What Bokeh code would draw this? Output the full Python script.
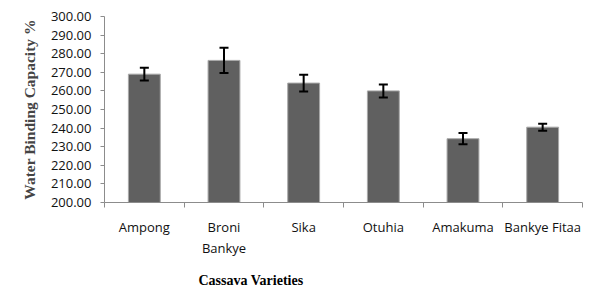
from bokeh.plotting import figure
from bokeh.models import Range1d, FixedTicker, ColumnDataSource, Whisker, TeeHead, Title, NumeralTickFormatter
from bokeh.embed import file_html
from bokeh.resources import INLINE

categories = ["Ampong", "Broni Bankye", "Sika", "Otuhia", "Amakuma", "Bankye Fitaa"]
tick_labels = ["Ampong", "Broni\nBankye", "Sika", "Otuhia", "Amakuma", "Bankye Fitaa"]
values = [269.0, 276.4, 264.2, 260.0, 234.3, 240.5]
errors = [3.4, 6.8, 4.5, 3.5, 3.0, 1.9]

xs = [i + 0.5 for i in range(len(categories))]
src = ColumnDataSource(dict(
    x=xs, top=values,
    lower=[v - e for v, e in zip(values, errors)],
    upper=[v + e for v, e in zip(values, errors)],
))

p = figure(width=605, height=306, output_backend="svg", toolbar_location=None,
           x_range=Range1d(0, len(categories)), y_range=Range1d(200, 300),
           min_border_left=104, min_border_right=23, min_border_top=16, min_border_bottom=104)
p.outline_line_color = None
p.grid.grid_line_color = None
p.background_fill_color = "white"

p.vbar(x="x", top="top", bottom=200, width=0.4, source=src,
       fill_color="#606060", line_color="#a8a8a8", line_width=1)

w = Whisker(base="x", lower="lower", upper="upper", source=src, level="overlay",
            line_color="black", line_width=2,
            lower_head=TeeHead(size=9, line_color="black", line_width=2),
            upper_head=TeeHead(size=9, line_color="black", line_width=2))
p.add_layout(w)

font = "Open Sans"
ax = p.xaxis[0]
ax.ticker = FixedTicker(ticks=xs, minor_ticks=list(range(len(categories) + 1)))
ax.major_label_overrides = {x: t for x, t in zip(xs, tick_labels)}
ax.major_tick_line_color = None
ax.minor_tick_line_color = "#8c8c8c"
ax.minor_tick_in = 0
ax.minor_tick_out = 5
ax.axis_line_color = "#8c8c8c"
ax.major_label_text_font = font
ax.major_label_text_font_size = "13px"
ax.major_label_text_color = "#111111"
ax.major_label_standoff = 9
ax.major_label_text_line_height = 1.2

ay = p.yaxis[0]
ay.ticker = FixedTicker(ticks=list(range(200, 301, 10)))
ay.formatter = NumeralTickFormatter(format="0.00")
ay.minor_tick_line_color = None
ay.major_tick_in = 0
ay.major_tick_out = 4
ay.major_tick_line_color = "#8c8c8c"
ay.axis_line_color = "#8c8c8c"
ay.major_label_text_font = font
ay.major_label_text_font_size = "13px"
ay.major_label_text_color = "#111111"
ay.major_label_standoff = 9
ay.axis_label = "Water Binding Capacity %"
ay.axis_label_text_font = "Liberation Serif"
ay.axis_label_text_font_style = "bold"
ay.axis_label_text_font_size = "15.5px"
ay.axis_label_standoff = 10

p.add_layout(Title(text="Cassava Varieties", align="left", offset=94, standoff=20,
                   text_font="Liberation Serif", text_font_style="bold", text_font_size="14px",
                   text_color="black"), "below")

open("out.html", "w").write(file_html(p, INLINE))
